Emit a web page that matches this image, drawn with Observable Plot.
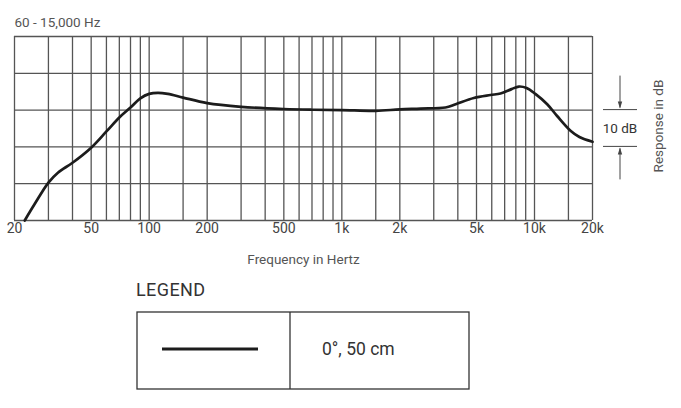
<!DOCTYPE html>
<html>
<head>
<meta charset="utf-8">
<script src="https://cdn.jsdelivr.net/npm/d3@7"></script>
<script src="https://cdn.jsdelivr.net/npm/@observablehq/plot@0.6"></script>
<style>
  html, body { margin: 0; padding: 0; background: #fff; }
  #wrap { position: relative; width: 681px; height: 408px; font-family: Roboto, "Liberation Sans", sans-serif; }
  #chart { position: absolute; left: 0; top: 0; }
  #legendTitle { position: absolute; left: 136px; top: 279px; font-size: 18px; color: #333; letter-spacing: 0.4px; }
  #legend { position: absolute; left: 0; top: 300px; }
</style>
</head>
<body>
<div id="wrap">
  <div id="chart"></div>
  <div id="legendTitle">LEGEND</div>
  <div id="legend"></div>
</div>
<script>
// Frequency response (Hz, dB relative to 1 kHz)
const freq = [22.6, 25.4, 30, 33.6, 40, 50, 60, 70, 80, 90, 100, 111, 125, 150, 200, 300, 500, 700, 1000, 1500, 2000, 2560, 3450, 3900, 4840, 5900, 6660, 7600, 8290, 9100, 10100, 11640, 13100, 15380, 17100, 20000];
const response = [-30, -25.6, -19.7, -17.0, -14.3, -10.2, -5.8, -2.0, 0.7, 3.2, 4.4, 4.7, 4.4, 3.4, 1.9, 0.9, 0.3, 0.1, 0, -0.2, 0.2, 0.4, 0.7, 1.6, 3.3, 4.1, 4.5, 5.7, 6.4, 6.0, 4.4, 1.6, -1.6, -5.6, -7.3, -8.6];

const gridFreqs = [20, 30, 40, 50, 60, 70, 80, 90, 100, 150, 200, 300, 400, 500, 600, 700, 800, 900, 1000, 1500, 2000, 3000, 4000, 5000, 6000, 7000, 8000, 9000, 10000, 15000, 20000];
const gridDb = [-30, -20, -10, 0, 10, 20];
const tickFreqs = [20, 50, 100, 200, 500, 1000, 2000, 5000, 10000, 20000];
const tickLabels = ["20", "50", "100", "200", "500", "1k", "2k", "5k", "10k", "20k"];

const titleText = "60 - 15,000 Hz";
const xLabel = "Frequency in Hertz";
const yLabel = "Response in dB";
const scaleText = "10 dB";
const legendLabel = "0°, 50 cm";

const data = freq.map((f, i) => ({f, db: response[i]}));
const ticks = tickFreqs.map((f, i) => ({f, label: tickLabels[i]}));
const gridColor = "#555";
const textColor = "#555";

const plot = Plot.plot({
  width: 681,
  height: 275,
  marginLeft: 14,
  marginRight: 89,
  marginTop: 36,
  marginBottom: 55,
  style: { fontFamily: "Roboto, 'Liberation Sans', sans-serif", background: "#fff", color: textColor },
  x: { type: "log", domain: [20, 20000], label: null, axis: null },
  y: { domain: [-30, 20], label: null, axis: null },
  marks: [
    Plot.ruleX(gridFreqs, { stroke: gridColor, strokeWidth: 1.3 }),
    Plot.ruleY(gridDb, { stroke: gridColor, strokeWidth: 1.3 }),
    Plot.text(ticks, { x: "f", text: "label", frameAnchor: "bottom", dy: 12, fontSize: 14, fill: "#444" }),
    Plot.line(data, { x: "f", y: "db", curve: "catmull-rom", stroke: "#1c1c1c", strokeWidth: 2.7 }),
    Plot.text([titleText], { frameAnchor: "top-left", textAnchor: "start", dy: -19, dx: 0, fontSize: 13.5, fill: textColor }),
    Plot.text([xLabel], { frameAnchor: "bottom", dy: 43, fontSize: 13.5, fill: textColor })
  ]
});
document.getElementById("chart").appendChild(plot);

// 10 dB bracket and y label, positioned via the y scale
const ys = plot.scale("y");
const y0 = ys.apply(0), y10 = ys.apply(-10);
const svg = d3.select(plot);
const g = svg.append("g").attr("stroke", "#444").attr("fill", "none").attr("stroke-width", 1);
const bx1 = 603, bx2 = 637, ax = 620;
g.append("line").attr("x1", bx1).attr("x2", bx2).attr("y1", y0).attr("y2", y0);
g.append("line").attr("x1", bx1).attr("x2", bx2).attr("y1", y10).attr("y2", y10);
g.append("line").attr("x1", ax).attr("x2", ax).attr("y1", y0 - 34).attr("y2", y0 - 2);
g.append("line").attr("x1", ax).attr("x2", ax).attr("y1", y10 + 2).attr("y2", y10 + 33);
g.append("path").attr("fill", "#444").attr("stroke", "none").attr("d", `M${ax-2.2},${y0-8}L${ax+2.2},${y0-8}L${ax},${y0-1}Z`);
g.append("path").attr("fill", "#444").attr("stroke", "none").attr("d", `M${ax-2.2},${y10+8}L${ax+2.2},${y10+8}L${ax},${y10+1}Z`);
svg.append("text").attr("x", ax).attr("y", (y0 + y10) / 2).attr("dy", "0.35em").attr("text-anchor", "middle")
  .attr("font-size", 13.5).attr("fill", "#333").text(scaleText);
svg.append("text").attr("transform", `translate(658,${(y0 + y10) / 2 - 2}) rotate(-90)`).attr("dy", "0.35em")
  .attr("text-anchor", "middle").attr("font-size", 13.5).attr("fill", textColor).text(yLabel);

// Legend table
const lg = d3.select("#legend").append("svg").attr("width", 681).attr("height", 100);
const boxX = 137, boxY = 12, boxW = 332, boxH = 77, divX = 290;
lg.append("rect").attr("x", boxX).attr("y", boxY).attr("width", boxW).attr("height", boxH)
  .attr("fill", "none").attr("stroke", "#333").attr("stroke-width", 1.3);
lg.append("line").attr("x1", divX).attr("x2", divX).attr("y1", boxY).attr("y2", boxY + boxH)
  .attr("stroke", "#333").attr("stroke-width", 1.3);
lg.append("line").attr("x1", 162).attr("x2", 258).attr("y1", boxY + 37).attr("y2", boxY + 37)
  .attr("stroke", "#1c1c1c").attr("stroke-width", 3);
lg.append("text").attr("x", 322).attr("y", boxY + 37).attr("dy", "0.35em").attr("font-size", 17.5)
  .attr("fill", "#333").attr("font-family", "Roboto, 'Liberation Sans', sans-serif").text(legendLabel);
</script>
</body>
</html>
